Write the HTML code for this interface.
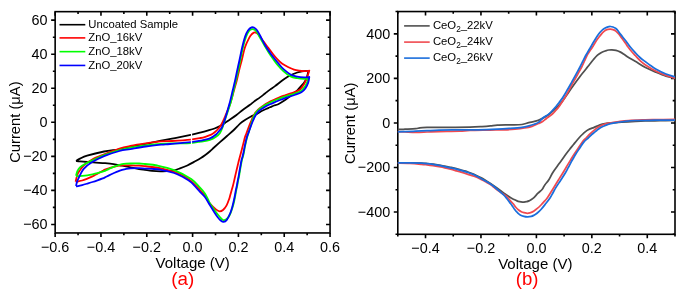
<!DOCTYPE html>
<html><head><meta charset="utf-8"><style>
html,body{margin:0;padding:0;background:#fff;width:685px;height:293px;overflow:hidden}
svg{display:block;will-change:transform}
text{font-family:"Liberation Sans", sans-serif}
</style></head><body>
<svg width="685" height="293" viewBox="0 0 685 293" font-family='"Liberation Sans", sans-serif'>
<rect width="685" height="293" fill="#fff"/>
<rect x="55.15" y="11.66" width="274.90" height="221.29" fill="none" stroke="#000" stroke-width="1.6"/>
<path d="M55.15 232.95v4 M55.15 11.66v4 M100.97 232.95v4 M100.97 11.66v4 M146.78 232.95v4 M146.78 11.66v4 M192.60 232.95v4 M192.60 11.66v4 M238.42 232.95v4 M238.42 11.66v4 M284.23 232.95v4 M284.23 11.66v4 M330.05 232.95v4 M330.05 11.66v4 M78.06 232.95v2.3 M78.06 11.66v2.3 M123.88 232.95v2.3 M123.88 11.66v2.3 M169.69 232.95v2.3 M169.69 11.66v2.3 M215.51 232.95v2.3 M215.51 11.66v2.3 M261.32 232.95v2.3 M261.32 11.66v2.3 M307.14 232.95v2.3 M307.14 11.66v2.3 M55.15 224.44h-4 M330.05 224.44h-4 M55.15 190.39h-4 M330.05 190.39h-4 M55.15 156.35h-4 M330.05 156.35h-4 M55.15 122.30h-4 M330.05 122.30h-4 M55.15 88.26h-4 M330.05 88.26h-4 M55.15 54.22h-4 M330.05 54.22h-4 M55.15 20.17h-4 M330.05 20.17h-4 M55.15 207.42h-2.3 M330.05 207.42h-2.3 M55.15 173.37h-2.3 M330.05 173.37h-2.3 M55.15 139.33h-2.3 M330.05 139.33h-2.3 M55.15 105.28h-2.3 M330.05 105.28h-2.3 M55.15 71.24h-2.3 M330.05 71.24h-2.3 M55.15 37.19h-2.3 M330.05 37.19h-2.3" stroke="#000" stroke-width="1.6" fill="none"/>
<text transform="translate(55.15 251.7) scale(0.96 1)" text-anchor="middle" font-size="15">−0.6</text>
<text transform="translate(100.97 251.7) scale(0.96 1)" text-anchor="middle" font-size="15">−0.4</text>
<text transform="translate(146.78 251.7) scale(0.96 1)" text-anchor="middle" font-size="15">−0.2</text>
<text transform="translate(192.60 251.7) scale(0.96 1)" text-anchor="middle" font-size="15">0.0</text>
<text transform="translate(238.42 251.7) scale(0.96 1)" text-anchor="middle" font-size="15">0.2</text>
<text transform="translate(284.23 251.7) scale(0.96 1)" text-anchor="middle" font-size="15">0.4</text>
<text transform="translate(330.05 251.7) scale(0.96 1)" text-anchor="middle" font-size="15">0.6</text>
<text transform="translate(47.55 229.19) scale(0.96 1)" text-anchor="end" font-size="15">−60</text>
<text transform="translate(47.55 195.14) scale(0.96 1)" text-anchor="end" font-size="15">−40</text>
<text transform="translate(47.55 161.10) scale(0.96 1)" text-anchor="end" font-size="15">−20</text>
<text transform="translate(47.55 127.05) scale(0.96 1)" text-anchor="end" font-size="15">0</text>
<text transform="translate(47.55 93.01) scale(0.96 1)" text-anchor="end" font-size="15">20</text>
<text transform="translate(47.55 58.97) scale(0.96 1)" text-anchor="end" font-size="15">40</text>
<text transform="translate(47.55 24.92) scale(0.96 1)" text-anchor="end" font-size="15">60</text>
<rect x="397.80" y="11.55" width="277.20" height="222.75" fill="none" stroke="#000" stroke-width="1.6"/>
<path d="M425.52 234.30v4 M425.52 11.55v4 M480.96 234.30v4 M480.96 11.55v4 M536.40 234.30v4 M536.40 11.55v4 M591.84 234.30v4 M591.84 11.55v4 M647.28 234.30v4 M647.28 11.55v4 M397.80 234.30v2.3 M397.80 11.55v2.3 M453.24 234.30v2.3 M453.24 11.55v2.3 M508.68 234.30v2.3 M508.68 11.55v2.3 M564.12 234.30v2.3 M564.12 11.55v2.3 M619.56 234.30v2.3 M619.56 11.55v2.3 M675.00 234.30v2.3 M675.00 11.55v2.3 M397.80 212.03h-4 M675.00 212.03h-4 M397.80 167.48h-4 M675.00 167.48h-4 M397.80 122.93h-4 M675.00 122.93h-4 M397.80 78.38h-4 M675.00 78.38h-4 M397.80 33.83h-4 M675.00 33.83h-4 M397.80 234.30h-2.3 M675.00 234.30h-2.3 M397.80 189.75h-2.3 M675.00 189.75h-2.3 M397.80 145.20h-2.3 M675.00 145.20h-2.3 M397.80 100.65h-2.3 M675.00 100.65h-2.3 M397.80 56.10h-2.3 M675.00 56.10h-2.3 M397.80 11.55h-2.3 M675.00 11.55h-2.3" stroke="#000" stroke-width="1.6" fill="none"/>
<text transform="translate(425.52 253.2) scale(0.96 1)" text-anchor="middle" font-size="15">−0.4</text>
<text transform="translate(480.96 253.2) scale(0.96 1)" text-anchor="middle" font-size="15">−0.2</text>
<text transform="translate(536.40 253.2) scale(0.96 1)" text-anchor="middle" font-size="15">0.0</text>
<text transform="translate(591.84 253.2) scale(0.96 1)" text-anchor="middle" font-size="15">0.2</text>
<text transform="translate(647.28 253.2) scale(0.96 1)" text-anchor="middle" font-size="15">0.4</text>
<text transform="translate(390.20 216.78) scale(0.96 1)" text-anchor="end" font-size="15">−400</text>
<text transform="translate(390.20 172.23) scale(0.96 1)" text-anchor="end" font-size="15">−200</text>
<text transform="translate(390.20 127.68) scale(0.96 1)" text-anchor="end" font-size="15">0</text>
<text transform="translate(390.20 83.13) scale(0.96 1)" text-anchor="end" font-size="15">200</text>
<text transform="translate(390.20 38.58) scale(0.96 1)" text-anchor="end" font-size="15">400</text>
<text transform="translate(192.7 268.3) scale(1 1)" text-anchor="middle" font-size="15">Voltage (V)</text>
<text transform="translate(535.3 269.4) scale(1 1)" text-anchor="middle" font-size="15">Voltage (V)</text>
<text x="182.7" y="285.4" text-anchor="middle" font-size="18.8" fill="#ff0000">(a)</text>
<text x="527.2" y="285.0" text-anchor="middle" font-size="18.6" fill="#ff0000">(b)</text>
<text transform="translate(20.2 122.1) rotate(-90)" text-anchor="middle" font-size="14.75">Current (μA)</text>
<text transform="translate(354.5 123.3) rotate(-90)" text-anchor="middle" font-size="14.75">Current (μA)</text>
<g fill="none" stroke-width="1.8" stroke-linejoin="round">
<path d="M76.00 160.90C76.67 160.52 78.15 159.48 80.00 158.60C81.85 157.72 83.08 156.78 87.10 155.60C91.12 154.42 98.70 152.55 104.10 151.50C109.50 150.45 115.13 150.08 119.50 149.30C123.87 148.52 125.93 147.72 130.30 146.80C134.67 145.88 140.58 144.83 145.70 143.80C150.82 142.77 156.12 141.55 161.00 140.60C165.88 139.65 170.05 139.07 175.00 138.10C179.95 137.13 186.53 135.72 190.70 134.80C194.87 133.88 197.07 133.33 200.00 132.60C202.93 131.87 205.88 131.08 208.30 130.40C210.72 129.72 212.47 129.25 214.50 128.50C216.53 127.75 218.75 126.83 220.50 125.90C222.25 124.97 223.58 123.85 225.00 122.90C226.42 121.95 227.08 121.52 229.00 120.20C230.92 118.88 234.22 116.70 236.50 115.00C238.78 113.30 240.45 111.70 242.70 110.00C244.95 108.30 248.12 106.20 250.00 104.80C251.88 103.40 252.33 102.83 254.00 101.60C255.67 100.37 258.17 98.75 260.00 97.40C261.83 96.05 263.33 94.80 265.00 93.50C266.67 92.20 268.33 90.83 270.00 89.60C271.67 88.37 272.73 87.78 275.00 86.10C277.27 84.42 281.02 81.32 283.60 79.50C286.18 77.68 288.22 76.37 290.50 75.20C292.78 74.03 295.38 73.15 297.30 72.50C299.22 71.85 300.13 71.58 302.00 71.30C303.87 71.02 307.42 70.88 308.50 70.80C308.22 71.92 307.52 75.55 306.80 77.50C306.08 79.45 305.12 81.12 304.20 82.50C303.28 83.88 302.37 84.58 301.30 85.80C300.23 87.02 299.02 88.60 297.80 89.80C296.58 91.00 295.22 91.97 294.00 93.00C292.78 94.03 291.92 94.87 290.50 96.00C289.08 97.13 287.55 98.42 285.50 99.80C283.45 101.18 280.12 103.35 278.20 104.30C276.28 105.25 275.37 105.00 274.00 105.50C272.63 106.00 271.33 106.72 270.00 107.30C268.67 107.88 267.30 108.42 266.00 109.00C264.70 109.58 263.38 110.18 262.20 110.80C261.02 111.42 259.93 112.10 258.90 112.70C257.87 113.30 257.40 113.73 256.00 114.40C254.60 115.07 252.83 115.43 250.50 116.70C248.17 117.97 244.20 120.38 242.00 122.00C239.80 123.62 238.67 125.07 237.30 126.40C235.93 127.73 235.52 128.40 233.80 130.00C232.08 131.60 229.30 133.97 227.00 136.00C224.70 138.03 222.17 140.28 220.00 142.20C217.83 144.12 215.67 146.00 214.00 147.50C212.33 149.00 211.45 149.95 210.00 151.20C208.55 152.45 206.82 153.87 205.30 155.00C203.78 156.13 202.78 156.85 200.90 158.00C199.02 159.15 196.27 160.65 194.00 161.90C191.73 163.15 189.63 164.42 187.30 165.50C184.97 166.58 182.20 167.60 180.00 168.40C177.80 169.20 176.27 169.83 174.10 170.30C171.93 170.77 169.27 171.03 167.00 171.20C164.73 171.37 163.00 171.37 160.50 171.30C158.00 171.23 154.58 171.03 152.00 170.80C149.42 170.57 147.15 170.18 145.00 169.90C142.85 169.62 141.50 169.52 139.10 169.10C136.70 168.68 133.43 167.97 130.60 167.40C127.77 166.83 124.95 166.25 122.10 165.70C119.25 165.15 116.35 164.52 113.50 164.10C110.65 163.68 107.92 163.45 105.00 163.20C102.08 162.95 98.98 162.80 96.00 162.60C93.02 162.40 89.77 162.20 87.10 162.00C84.43 161.80 81.85 161.58 80.00 161.40C78.15 161.22 76.67 160.98 76.00 160.90" stroke="#000"/>
<path d="M75.60 181.70C75.83 180.75 76.52 177.57 77.00 176.00C77.48 174.43 77.38 174.05 78.50 172.30C79.62 170.55 81.42 167.63 83.70 165.50C85.98 163.37 88.80 161.35 92.20 159.50C95.60 157.65 99.55 156.22 104.10 154.40C108.65 152.58 115.13 150.00 119.50 148.60C123.87 147.20 125.93 146.87 130.30 146.00C134.67 145.13 140.58 144.17 145.70 143.40C150.82 142.63 156.62 141.80 161.00 141.40C165.38 141.00 167.05 141.30 172.00 141.00C176.95 140.70 185.92 140.10 190.70 139.60C195.48 139.10 198.15 138.50 200.70 138.00C203.25 137.50 204.47 137.07 206.00 136.60C207.53 136.13 208.85 135.63 209.90 135.20C210.95 134.77 211.45 134.53 212.30 134.00C213.15 133.47 213.97 132.92 215.00 132.00C216.03 131.08 217.47 129.70 218.50 128.50C219.53 127.30 220.07 126.88 221.20 124.80C222.33 122.72 223.80 119.53 225.30 116.00C226.80 112.47 228.73 107.93 230.20 103.60C231.67 99.27 232.98 93.93 234.10 90.00C235.22 86.07 236.05 83.33 236.90 80.00C237.75 76.67 238.38 73.33 239.20 70.00C240.02 66.67 240.83 63.78 241.80 60.00C242.77 56.22 243.75 51.02 245.00 47.30C246.25 43.58 248.13 39.92 249.30 37.70C250.47 35.48 251.12 34.90 252.00 34.00C252.88 33.10 253.77 32.42 254.60 32.30C255.43 32.18 256.23 32.80 257.00 33.30C257.77 33.80 258.07 33.87 259.20 35.30C260.33 36.73 262.25 39.77 263.80 41.90C265.35 44.03 266.95 46.05 268.50 48.10C270.05 50.15 271.57 52.28 273.10 54.20C274.63 56.12 276.17 58.00 277.70 59.60C279.23 61.20 280.50 62.52 282.30 63.80C284.10 65.08 286.55 66.33 288.50 67.30C290.45 68.27 292.25 69.03 294.00 69.60C295.75 70.17 297.33 70.43 299.00 70.70C300.67 70.97 302.28 71.20 304.00 71.20C305.72 71.20 308.42 70.78 309.30 70.70C308.88 71.92 307.67 75.77 306.80 78.00C305.93 80.23 305.23 82.18 304.10 84.10C302.97 86.02 301.60 88.15 300.00 89.50C298.40 90.85 296.17 91.52 294.50 92.20C292.83 92.88 291.58 93.08 290.00 93.60C288.42 94.12 286.67 94.72 285.00 95.30C283.33 95.88 281.67 96.43 280.00 97.10C278.33 97.77 276.67 98.55 275.00 99.30C273.33 100.05 271.50 100.85 270.00 101.60C268.50 102.35 267.25 103.03 266.00 103.80C264.75 104.57 263.58 105.42 262.50 106.20C261.42 106.98 260.42 107.73 259.50 108.50C258.58 109.27 257.75 110.00 257.00 110.80C256.25 111.60 255.63 112.35 255.00 113.30C254.37 114.25 253.77 115.38 253.20 116.50C252.63 117.62 252.18 118.67 251.60 120.00C251.02 121.33 250.33 122.92 249.70 124.50C249.07 126.08 248.38 127.92 247.80 129.50C247.22 131.08 246.67 132.75 246.20 134.00C245.73 135.25 245.43 135.58 245.00 137.00C244.57 138.42 244.07 140.67 243.60 142.50C243.13 144.33 242.65 146.25 242.20 148.00C241.75 149.75 241.43 151.00 240.90 153.00C240.37 155.00 239.52 158.00 239.00 160.00C238.48 162.00 238.22 163.25 237.80 165.00C237.38 166.75 236.93 168.67 236.50 170.50C236.07 172.33 235.58 174.33 235.20 176.00C234.82 177.67 234.57 178.92 234.20 180.50C233.83 182.08 233.42 183.92 233.00 185.50C232.58 187.08 232.15 188.42 231.70 190.00C231.25 191.58 230.70 193.57 230.30 195.00C229.90 196.43 229.92 196.87 229.30 198.60C228.68 200.33 227.65 203.50 226.60 205.40C225.55 207.30 224.17 209.02 223.00 210.00C221.83 210.98 220.73 211.37 219.60 211.30C218.47 211.23 217.80 210.90 216.20 209.60C214.60 208.30 211.57 205.32 210.00 203.50C208.43 201.68 207.65 200.05 206.80 198.70C205.95 197.35 206.03 196.85 204.90 195.40C203.77 193.95 202.28 192.38 200.00 190.00C197.72 187.62 194.03 183.52 191.20 181.10C188.37 178.68 185.85 177.03 183.00 175.50C180.15 173.97 177.77 173.08 174.10 171.90C170.43 170.72 164.68 169.22 161.00 168.40C157.32 167.58 154.67 167.37 152.00 167.00C149.33 166.63 147.15 166.42 145.00 166.20C142.85 165.98 141.50 165.83 139.10 165.70C136.70 165.57 133.43 165.47 130.60 165.40C127.77 165.33 124.20 165.22 122.10 165.30C120.00 165.38 119.43 165.63 118.00 165.90C116.57 166.17 115.00 166.50 113.50 166.90C112.00 167.30 110.42 167.83 109.00 168.30C107.58 168.77 106.05 169.27 105.00 169.70C103.95 170.13 103.53 170.47 102.70 170.90C101.87 171.33 100.87 171.85 100.00 172.30C99.13 172.75 98.33 173.15 97.50 173.60C96.67 174.05 95.83 174.53 95.00 175.00C94.17 175.47 93.78 175.80 92.50 176.40C91.22 177.00 89.02 177.92 87.30 178.60C85.58 179.28 83.67 180.05 82.20 180.50C80.73 180.95 79.60 181.10 78.50 181.30C77.40 181.50 76.08 181.63 75.60 181.70" stroke="#ff0000"/>
<path d="M76.00 175.70C76.25 174.92 76.80 172.42 77.50 171.00C78.20 169.58 78.95 168.37 80.20 167.20C81.45 166.03 83.00 165.13 85.00 164.00C87.00 162.87 89.02 161.87 92.20 160.40C95.38 158.93 99.55 156.92 104.10 155.20C108.65 153.48 115.13 151.37 119.50 150.10C123.87 148.83 125.93 148.38 130.30 147.60C134.67 146.82 140.58 146.02 145.70 145.40C150.82 144.78 156.12 144.23 161.00 143.90C165.88 143.57 170.05 143.55 175.00 143.40C179.95 143.25 186.42 143.30 190.70 143.00C194.98 142.70 197.50 142.12 200.70 141.60C203.90 141.08 207.35 140.70 209.90 139.90C212.45 139.10 214.32 137.95 216.00 136.80C217.68 135.65 218.92 134.55 220.00 133.00C221.08 131.45 221.53 130.12 222.50 127.50C223.47 124.88 224.48 121.28 225.80 117.30C227.12 113.32 229.08 108.15 230.40 103.60C231.72 99.05 232.77 93.93 233.70 90.00C234.63 86.07 235.23 83.33 236.00 80.00C236.77 76.67 237.58 73.33 238.30 70.00C239.02 66.67 239.52 63.78 240.30 60.00C241.08 56.22 242.05 51.13 243.00 47.30C243.95 43.47 245.00 39.72 246.00 37.00C247.00 34.28 248.00 32.30 249.00 31.00C250.00 29.70 251.00 29.37 252.00 29.20C253.00 29.03 254.08 29.37 255.00 30.00C255.92 30.63 256.75 31.87 257.50 33.00C258.25 34.13 258.33 34.72 259.50 36.80C260.67 38.88 262.92 42.80 264.50 45.50C266.08 48.20 267.50 50.67 269.00 53.00C270.50 55.33 272.00 57.42 273.50 59.50C275.00 61.58 276.32 63.52 278.00 65.50C279.68 67.48 281.52 69.58 283.60 71.40C285.68 73.22 288.22 75.27 290.50 76.40C292.78 77.53 295.03 77.78 297.30 78.20C299.57 78.62 302.28 78.83 304.10 78.90C305.92 78.97 307.52 78.65 308.20 78.60C308.08 79.08 308.03 80.18 307.50 81.50C306.97 82.82 306.08 84.92 305.00 86.50C303.92 88.08 302.75 89.82 301.00 91.00C299.25 92.18 296.33 92.93 294.50 93.60C292.67 94.27 291.58 94.50 290.00 95.00C288.42 95.50 286.67 96.03 285.00 96.60C283.33 97.17 281.67 97.77 280.00 98.40C278.33 99.03 276.67 99.72 275.00 100.40C273.33 101.08 271.50 101.80 270.00 102.50C268.50 103.20 267.25 103.88 266.00 104.60C264.75 105.32 263.58 106.08 262.50 106.80C261.42 107.52 260.42 108.15 259.50 108.90C258.58 109.65 257.75 110.45 257.00 111.30C256.25 112.15 255.60 113.00 255.00 114.00C254.40 115.00 253.83 116.30 253.40 117.30C252.97 118.30 252.78 118.80 252.40 120.00C252.02 121.20 251.57 122.95 251.10 124.50C250.63 126.05 250.07 127.80 249.60 129.30C249.13 130.80 248.70 132.22 248.30 133.50C247.90 134.78 247.60 135.55 247.20 137.00C246.80 138.45 246.30 140.47 245.90 142.20C245.50 143.93 245.15 145.60 244.80 147.40C244.45 149.20 244.15 151.32 243.80 153.00C243.45 154.68 243.02 156.33 242.70 157.50C242.38 158.67 242.33 157.92 241.90 160.00C241.47 162.08 240.57 167.33 240.10 170.00C239.63 172.67 239.45 174.17 239.10 176.00C238.75 177.83 238.30 179.43 238.00 181.00C237.70 182.57 237.58 183.90 237.30 185.40C237.02 186.90 236.65 188.23 236.30 190.00C235.95 191.77 235.58 194.00 235.20 196.00C234.82 198.00 234.50 199.92 234.00 202.00C233.50 204.08 232.83 206.50 232.20 208.50C231.57 210.50 230.98 212.38 230.20 214.00C229.42 215.62 228.50 217.17 227.50 218.20C226.50 219.23 225.12 220.02 224.20 220.20C223.28 220.38 222.93 220.08 222.00 219.30C221.07 218.52 219.83 217.02 218.60 215.50C217.37 213.98 216.03 212.20 214.60 210.20C213.17 208.20 211.02 205.12 210.00 203.50C208.98 201.88 209.35 202.17 208.50 200.50C207.65 198.83 206.32 195.63 204.90 193.50C203.48 191.37 202.28 190.12 200.00 187.70C197.72 185.28 195.52 181.93 191.20 179.00C186.88 176.07 179.78 172.35 174.10 170.10C168.42 167.85 161.95 166.52 157.10 165.50C152.25 164.48 148.00 164.33 145.00 164.00C142.00 163.67 141.50 163.58 139.10 163.50C136.70 163.42 132.78 163.47 130.60 163.50C128.42 163.53 127.42 163.58 126.00 163.70C124.58 163.82 123.43 163.93 122.10 164.20C120.77 164.47 119.43 164.85 118.00 165.30C116.57 165.75 115.00 166.30 113.50 166.90C112.00 167.50 110.42 168.25 109.00 168.90C107.58 169.55 106.05 170.35 105.00 170.80C103.95 171.25 103.95 171.22 102.70 171.60C101.45 171.98 99.20 172.65 97.50 173.10C95.80 173.55 94.20 173.93 92.50 174.30C90.80 174.67 89.02 175.03 87.30 175.30C85.58 175.57 83.58 175.77 82.20 175.90C80.82 176.03 80.03 176.05 79.00 176.10C77.97 176.15 76.50 176.18 76.00 176.20" stroke="#00ff00"/>
<path d="M76.00 186.00C76.17 185.33 76.58 183.28 77.00 182.00C77.42 180.72 77.38 180.48 78.50 178.30C79.62 176.12 81.42 171.60 83.70 168.90C85.98 166.20 88.80 164.23 92.20 162.10C95.60 159.97 99.55 157.95 104.10 156.10C108.65 154.25 115.13 152.17 119.50 151.00C123.87 149.83 125.93 149.85 130.30 149.10C134.67 148.35 140.58 147.23 145.70 146.50C150.82 145.77 156.95 145.12 161.00 144.70C165.05 144.28 165.05 144.42 170.00 144.00C174.95 143.58 185.58 142.75 190.70 142.20C195.82 141.65 197.50 141.33 200.70 140.70C203.90 140.07 207.35 139.43 209.90 138.40C212.45 137.37 214.40 135.82 216.00 134.50C217.60 133.18 218.45 131.78 219.50 130.50C220.55 129.22 221.28 129.00 222.30 126.80C223.32 124.60 224.40 121.17 225.60 117.30C226.80 113.43 228.30 108.15 229.50 103.60C230.70 99.05 231.85 93.93 232.80 90.00C233.75 86.07 234.45 83.33 235.20 80.00C235.95 76.67 236.58 73.33 237.30 70.00C238.02 66.67 238.68 63.78 239.50 60.00C240.32 56.22 241.25 51.23 242.20 47.30C243.15 43.37 244.23 39.20 245.20 36.40C246.17 33.60 246.93 32.00 248.00 30.50C249.07 29.00 250.57 27.87 251.60 27.40C252.63 26.93 253.40 27.35 254.20 27.70C255.00 28.05 255.68 28.68 256.40 29.50C257.12 30.32 257.77 31.35 258.50 32.60C259.23 33.85 259.65 34.80 260.80 37.00C261.95 39.20 263.87 43.18 265.40 45.80C266.93 48.42 268.47 50.53 270.00 52.70C271.53 54.87 273.07 56.85 274.60 58.80C276.13 60.75 277.67 62.63 279.20 64.40C280.73 66.17 281.92 67.72 283.80 69.40C285.68 71.08 288.25 73.30 290.50 74.50C292.75 75.70 295.03 76.13 297.30 76.60C299.57 77.07 302.10 77.23 304.10 77.30C306.10 77.37 308.43 77.05 309.30 77.00C309.12 77.95 308.83 80.83 308.20 82.70C307.57 84.57 306.63 86.60 305.50 88.20C304.37 89.80 303.23 91.17 301.40 92.30C299.57 93.43 296.40 94.30 294.50 95.00C292.60 95.70 291.58 95.97 290.00 96.50C288.42 97.03 286.67 97.62 285.00 98.20C283.33 98.78 281.67 99.35 280.00 100.00C278.33 100.65 276.67 101.38 275.00 102.10C273.33 102.82 271.50 103.60 270.00 104.30C268.50 105.00 267.25 105.62 266.00 106.30C264.75 106.98 263.58 107.70 262.50 108.40C261.42 109.10 260.37 109.77 259.50 110.50C258.63 111.23 257.97 111.97 257.30 112.80C256.63 113.63 256.05 114.55 255.50 115.50C254.95 116.45 254.40 117.67 254.00 118.50C253.60 119.33 253.52 119.50 253.10 120.50C252.68 121.50 252.05 123.03 251.50 124.50C250.95 125.97 250.35 127.80 249.80 129.30C249.25 130.80 248.68 132.22 248.20 133.50C247.72 134.78 247.33 135.55 246.90 137.00C246.47 138.45 246.00 140.47 245.60 142.20C245.20 143.93 244.87 145.60 244.50 147.40C244.13 149.20 243.77 151.32 243.40 153.00C243.03 154.68 242.62 156.33 242.30 157.50C241.98 158.67 241.78 158.75 241.50 160.00C241.22 161.25 240.90 163.33 240.60 165.00C240.30 166.67 240.02 168.17 239.70 170.00C239.38 171.83 239.03 174.17 238.70 176.00C238.37 177.83 238.00 179.43 237.70 181.00C237.40 182.57 237.20 183.90 236.90 185.40C236.60 186.90 236.25 188.23 235.90 190.00C235.55 191.77 235.20 194.00 234.80 196.00C234.40 198.00 233.97 200.00 233.50 202.00C233.03 204.00 232.53 206.17 232.00 208.00C231.47 209.83 231.13 211.07 230.30 213.00C229.47 214.93 228.12 218.12 227.00 219.60C225.88 221.08 224.70 221.80 223.60 221.90C222.50 222.00 221.42 221.02 220.40 220.20C219.38 219.38 218.47 218.23 217.50 217.00C216.53 215.77 215.85 214.75 214.60 212.80C213.35 210.85 211.62 207.93 210.00 205.30C208.38 202.67 206.57 199.23 204.90 197.00C203.23 194.77 202.28 194.33 200.00 191.90C197.72 189.47 194.03 184.88 191.20 182.40C188.37 179.92 185.85 178.57 183.00 177.00C180.15 175.43 177.77 174.20 174.10 173.00C170.43 171.80 164.68 170.48 161.00 169.80C157.32 169.12 154.67 169.10 152.00 168.90C149.33 168.70 147.15 168.72 145.00 168.60C142.85 168.48 141.50 168.25 139.10 168.20C136.70 168.15 132.73 168.20 130.60 168.30C128.47 168.40 127.72 168.53 126.30 168.80C124.88 169.07 123.48 169.48 122.10 169.90C120.72 170.32 119.43 170.73 118.00 171.30C116.57 171.87 115.00 172.62 113.50 173.30C112.00 173.98 110.42 174.72 109.00 175.40C107.58 176.08 106.05 176.90 105.00 177.40C103.95 177.90 103.95 177.92 102.70 178.40C101.45 178.88 99.20 179.70 97.50 180.30C95.80 180.90 94.20 181.45 92.50 182.00C90.80 182.55 89.02 183.08 87.30 183.60C85.58 184.12 83.58 184.73 82.20 185.10C80.82 185.47 80.03 185.58 79.00 185.80C77.97 186.02 76.50 186.30 76.00 186.40" stroke="#0000ff"/>
</g>
<rect x="190.9" y="131.5" width="1.2" height="14" fill="#fff"/>
<clipPath id="cb"><rect x="397.8" y="11.55" width="277.2" height="222.75"/></clipPath>
<g fill="none" stroke-width="1.75" stroke-linejoin="round" clip-path="url(#cb)">
<path d="M397.00 129.50C398.33 129.45 401.88 129.33 405.00 129.20C408.12 129.07 413.23 128.93 415.70 128.70C418.17 128.47 417.92 128.02 419.80 127.80C421.68 127.58 424.48 127.48 427.00 127.40C429.52 127.32 431.07 127.32 434.90 127.30C438.73 127.28 444.15 127.32 450.00 127.30C455.85 127.28 464.67 127.32 470.00 127.20C475.33 127.08 478.58 126.82 482.00 126.60C485.42 126.38 487.95 126.15 490.50 125.90C493.05 125.65 494.05 125.28 497.30 125.10C500.55 124.92 505.90 124.90 510.00 124.80C514.10 124.70 518.78 124.87 521.90 124.50C525.02 124.13 526.77 123.08 528.70 122.60C530.63 122.12 531.90 122.00 533.50 121.60C535.10 121.20 536.37 120.97 538.30 120.20C540.23 119.43 543.15 118.12 545.10 117.00C547.05 115.88 548.27 114.88 550.00 113.50C551.73 112.12 553.60 110.52 555.50 108.70C557.40 106.88 559.40 105.05 561.40 102.60C563.40 100.15 565.65 96.63 567.50 94.00C569.35 91.37 570.78 89.22 572.50 86.80C574.22 84.38 576.30 81.55 577.80 79.50C579.30 77.45 580.13 76.25 581.50 74.50C582.87 72.75 584.67 70.67 586.00 69.00C587.33 67.33 588.25 66.08 589.50 64.50C590.75 62.92 592.17 61.05 593.50 59.50C594.83 57.95 596.17 56.38 597.50 55.20C598.83 54.02 600.13 53.13 601.50 52.40C602.87 51.67 604.48 51.20 605.70 50.80C606.92 50.40 607.77 50.17 608.80 50.00C609.83 49.83 610.70 49.73 611.90 49.80C613.10 49.87 614.65 50.05 616.00 50.40C617.35 50.75 618.67 51.25 620.00 51.90C621.33 52.55 622.63 53.42 624.00 54.30C625.37 55.18 626.33 56.05 628.20 57.20C630.07 58.35 632.32 59.48 635.20 61.20C638.08 62.92 642.08 65.68 645.50 67.50C648.92 69.32 652.28 70.67 655.70 72.10C659.12 73.53 662.78 75.07 666.00 76.10C669.22 77.13 673.50 77.93 675.00 78.30" stroke="#505050"/>
<path d="M675.00 120.40C672.50 120.45 665.00 120.60 660.00 120.70C655.00 120.80 649.08 120.88 645.00 121.00C640.92 121.12 639.40 121.20 635.50 121.40C631.60 121.60 625.77 121.95 621.60 122.20C617.43 122.45 613.27 122.67 610.50 122.90C607.73 123.13 606.75 123.28 605.00 123.60C603.25 123.92 601.33 124.38 600.00 124.80C598.67 125.22 598.05 125.63 597.00 126.10C595.95 126.57 594.87 127.13 593.70 127.60C592.53 128.07 591.15 128.40 590.00 128.90C588.85 129.40 587.88 129.87 586.80 130.60C585.72 131.33 584.52 132.40 583.50 133.30C582.48 134.20 581.78 134.85 580.70 136.00C579.62 137.15 578.23 138.73 577.00 140.20C575.77 141.67 574.55 143.25 573.30 144.80C572.05 146.35 570.83 147.80 569.50 149.50C568.17 151.20 567.02 152.65 565.30 155.00C563.58 157.35 561.25 160.73 559.20 163.60C557.15 166.47 554.75 169.47 553.00 172.20C551.25 174.93 550.07 177.88 548.70 180.00C547.33 182.12 545.87 183.37 544.80 184.90C543.73 186.43 543.43 187.82 542.30 189.20C541.17 190.58 539.55 191.67 538.00 193.20C536.45 194.73 534.52 197.12 533.00 198.40C531.48 199.68 529.98 200.35 528.90 200.90C527.82 201.45 527.32 201.50 526.50 201.70C525.68 201.90 524.92 202.07 524.00 202.10C523.08 202.13 521.97 202.03 521.00 201.90C520.03 201.77 519.05 201.57 518.20 201.30C517.35 201.03 516.93 200.78 515.90 200.30C514.87 199.82 513.30 199.12 512.00 198.40C510.70 197.68 509.18 196.68 508.10 196.00C507.02 195.32 506.73 195.17 505.50 194.30C504.27 193.43 502.37 192.02 500.70 190.80C499.03 189.58 497.20 188.22 495.50 187.00C493.80 185.78 492.25 184.67 490.50 183.50C488.75 182.33 486.72 181.03 485.00 180.00C483.28 178.97 482.03 178.27 480.20 177.30C478.37 176.33 476.03 175.08 474.00 174.20C471.97 173.32 470.00 172.65 468.00 172.00C466.00 171.35 463.93 170.87 462.00 170.30C460.07 169.73 458.32 169.10 456.40 168.60C454.48 168.10 452.45 167.70 450.50 167.30C448.55 166.90 446.62 166.57 444.70 166.20C442.78 165.83 440.95 165.43 439.00 165.10C437.05 164.77 435.00 164.47 433.00 164.20C431.00 163.93 428.93 163.68 427.00 163.50C425.07 163.32 424.28 163.22 421.40 163.10C418.52 162.98 413.77 162.85 409.70 162.80C405.63 162.75 399.12 162.80 397.00 162.80" stroke="#505050"/>
<path d="M397.00 131.60C398.33 131.65 401.88 131.78 405.00 131.90C408.12 132.02 412.03 132.28 415.70 132.30C419.37 132.32 423.12 132.12 427.00 132.00C430.88 131.88 433.60 131.73 439.00 131.60C444.40 131.47 454.23 131.38 459.40 131.20C464.57 131.02 464.90 130.68 470.00 130.50C475.10 130.32 484.32 130.22 490.00 130.10C495.68 129.98 499.93 129.95 504.10 129.80C508.27 129.65 511.58 129.50 515.00 129.20C518.42 128.90 521.77 128.48 524.60 128.00C527.43 127.52 529.53 127.12 532.00 126.30C534.47 125.48 537.57 123.95 539.40 123.10C541.23 122.25 541.87 121.93 543.00 121.20C544.13 120.47 544.63 119.90 546.20 118.70C547.77 117.50 550.77 115.42 552.40 114.00C554.03 112.58 554.92 111.42 556.00 110.20C557.08 108.98 558.00 107.90 558.90 106.70C559.80 105.50 560.58 104.22 561.40 103.00C562.22 101.78 562.93 100.80 563.80 99.40C564.67 98.00 565.67 96.27 566.60 94.60C567.53 92.93 568.48 91.12 569.40 89.40C570.32 87.68 571.25 85.87 572.10 84.30C572.95 82.73 573.50 81.80 574.50 80.00C575.50 78.20 576.90 75.67 578.10 73.50C579.30 71.33 580.63 69.08 581.70 67.00C582.77 64.92 583.58 63.00 584.50 61.00C585.42 59.00 586.32 56.67 587.20 55.00C588.08 53.33 588.92 52.33 589.80 51.00C590.68 49.67 591.47 48.63 592.50 47.00C593.53 45.37 594.77 43.03 596.00 41.20C597.23 39.37 598.80 37.42 599.90 36.00C601.00 34.58 601.72 33.63 602.60 32.70C603.48 31.77 604.30 30.95 605.20 30.40C606.10 29.85 607.13 29.62 608.00 29.40C608.87 29.18 609.57 29.07 610.40 29.10C611.23 29.13 612.15 29.30 613.00 29.60C613.85 29.90 614.67 30.30 615.50 30.90C616.33 31.50 617.15 32.28 618.00 33.20C618.85 34.12 619.77 35.30 620.60 36.40C621.43 37.50 622.15 38.60 623.00 39.80C623.85 41.00 624.82 42.35 625.70 43.60C626.58 44.85 627.42 46.10 628.30 47.30C629.18 48.50 629.85 49.45 631.00 50.80C632.15 52.15 633.70 53.78 635.20 55.40C636.70 57.02 638.28 58.92 640.00 60.50C641.72 62.08 642.88 63.15 645.50 64.90C648.12 66.65 652.28 69.25 655.70 71.00C659.12 72.75 662.78 74.20 666.00 75.40C669.22 76.60 673.50 77.73 675.00 78.20" stroke="#f04a50"/>
<path d="M675.00 119.30C673.03 119.33 668.20 119.40 663.20 119.50C658.20 119.60 650.78 119.73 645.00 119.90C639.22 120.07 632.83 120.23 628.50 120.50C624.17 120.77 622.00 121.10 619.00 121.50C616.00 121.90 612.83 122.48 610.50 122.90C608.17 123.32 606.75 123.45 605.00 124.00C603.25 124.55 601.33 125.53 600.00 126.20C598.67 126.87 598.05 127.27 597.00 128.00C595.95 128.73 594.87 129.60 593.70 130.60C592.53 131.60 591.27 132.77 590.00 134.00C588.73 135.23 587.23 136.85 586.10 138.00C584.97 139.15 584.43 139.32 583.20 140.90C581.97 142.48 580.18 145.32 578.70 147.50C577.22 149.68 575.62 151.98 574.30 154.00C572.98 156.02 572.10 157.47 570.80 159.60C569.50 161.73 567.83 164.57 566.50 166.80C565.17 169.03 564.00 171.03 562.80 173.00C561.60 174.97 560.47 176.72 559.30 178.60C558.13 180.48 557.10 182.20 555.80 184.30C554.50 186.40 552.93 188.92 551.50 191.20C550.07 193.48 548.28 196.43 547.20 198.00C546.12 199.57 546.03 199.43 545.00 200.60C543.97 201.77 542.33 203.65 541.00 205.00C539.67 206.35 538.17 207.72 537.00 208.70C535.83 209.68 534.95 210.28 534.00 210.90C533.05 211.52 532.22 212.02 531.30 212.40C530.38 212.78 529.32 213.07 528.50 213.20C527.68 213.33 527.15 213.28 526.40 213.20C525.65 213.12 524.85 212.95 524.00 212.70C523.15 212.45 522.20 212.15 521.30 211.70C520.40 211.25 519.52 210.73 518.60 210.00C517.68 209.27 516.67 208.30 515.80 207.30C514.93 206.30 514.37 205.15 513.40 204.00C512.43 202.85 511.15 201.68 510.00 200.40C508.85 199.12 507.83 197.48 506.50 196.30C505.17 195.12 503.42 194.25 502.00 193.30C500.58 192.35 499.33 191.58 498.00 190.60C496.67 189.62 495.25 188.42 494.00 187.40C492.75 186.38 492.00 185.48 490.50 184.50C489.00 183.52 486.72 182.43 485.00 181.50C483.28 180.57 482.03 179.77 480.20 178.90C478.37 178.03 476.03 177.07 474.00 176.30C471.97 175.53 470.00 174.95 468.00 174.30C466.00 173.65 463.93 172.98 462.00 172.40C460.07 171.82 458.32 171.33 456.40 170.80C454.48 170.27 452.45 169.70 450.50 169.20C448.55 168.70 446.62 168.22 444.70 167.80C442.78 167.38 440.95 167.05 439.00 166.70C437.05 166.35 435.00 166.00 433.00 165.70C431.00 165.40 428.93 165.13 427.00 164.90C425.07 164.67 424.28 164.53 421.40 164.30C418.52 164.07 413.77 163.68 409.70 163.50C405.63 163.32 399.12 163.25 397.00 163.20" stroke="#f04a50"/>
<path d="M397.00 131.80C398.33 131.77 401.88 131.70 405.00 131.60C408.12 131.50 412.03 131.35 415.70 131.20C419.37 131.05 423.12 130.87 427.00 130.70C430.88 130.53 433.83 130.33 439.00 130.20C444.17 130.07 451.50 129.97 458.00 129.90C464.50 129.83 471.45 129.93 478.00 129.80C484.55 129.67 491.97 129.35 497.30 129.10C502.63 128.85 505.90 128.60 510.00 128.30C514.10 128.00 518.90 127.65 521.90 127.30C524.90 126.95 525.95 126.70 528.00 126.20C530.05 125.70 532.45 124.93 534.20 124.30C535.95 123.67 537.07 123.45 538.50 122.40C539.93 121.35 541.52 119.10 542.80 118.00C544.08 116.90 545.07 116.58 546.20 115.80C547.33 115.02 548.47 114.30 549.60 113.30C550.73 112.30 551.90 110.98 553.00 109.80C554.10 108.62 555.20 107.38 556.20 106.20C557.20 105.02 558.08 103.88 559.00 102.70C559.92 101.52 560.73 100.52 561.70 99.10C562.67 97.68 563.80 95.85 564.80 94.20C565.80 92.55 566.72 90.90 567.70 89.20C568.68 87.50 569.85 85.50 570.70 84.00C571.55 82.50 571.85 81.93 572.80 80.20C573.75 78.47 575.20 75.80 576.40 73.60C577.60 71.40 578.90 69.10 580.00 67.00C581.10 64.90 582.00 63.00 583.00 61.00C584.00 59.00 585.10 56.67 586.00 55.00C586.90 53.33 587.62 52.33 588.40 51.00C589.18 49.67 589.73 48.67 590.70 47.00C591.67 45.33 593.02 42.95 594.20 41.00C595.38 39.05 596.78 36.80 597.80 35.30C598.82 33.80 599.48 32.95 600.30 32.00C601.12 31.05 601.88 30.28 602.70 29.60C603.52 28.92 604.32 28.37 605.20 27.90C606.08 27.43 607.13 27.03 608.00 26.80C608.87 26.57 609.57 26.47 610.40 26.50C611.23 26.53 612.15 26.70 613.00 27.00C613.85 27.30 614.67 27.67 615.50 28.30C616.33 28.93 617.15 29.78 618.00 30.80C618.85 31.82 619.32 32.73 620.60 34.40C621.88 36.07 624.05 38.65 625.70 40.80C627.35 42.95 628.92 45.33 630.50 47.30C632.08 49.27 633.62 50.90 635.20 52.60C636.78 54.30 638.28 55.97 640.00 57.50C641.72 59.03 643.75 60.47 645.50 61.80C647.25 63.13 648.80 64.32 650.50 65.50C652.20 66.68 653.12 67.48 655.70 68.90C658.28 70.32 662.78 72.67 666.00 74.00C669.22 75.33 673.50 76.42 675.00 76.90" stroke="#1a6edc"/>
<path d="M675.00 120.00C671.67 120.03 661.58 120.12 655.00 120.20C648.42 120.28 640.67 120.28 635.50 120.50C630.33 120.72 627.70 121.07 624.00 121.50C620.30 121.93 616.05 122.58 613.30 123.10C610.55 123.62 609.05 124.12 607.50 124.60C605.95 125.08 605.25 125.45 604.00 126.00C602.75 126.55 601.17 127.20 600.00 127.90C598.83 128.60 598.05 129.35 597.00 130.20C595.95 131.05 594.70 132.15 593.70 133.00C592.70 133.85 591.92 134.47 591.00 135.30C590.08 136.13 589.40 136.87 588.20 138.00C587.00 139.13 585.20 140.43 583.80 142.10C582.40 143.77 581.13 146.02 579.80 148.00C578.47 149.98 576.87 152.30 575.80 154.00C574.73 155.70 574.20 156.80 573.40 158.20C572.60 159.60 571.87 160.82 571.00 162.40C570.13 163.98 569.15 165.93 568.20 167.70C567.25 169.47 566.55 170.92 565.30 173.00C564.05 175.08 562.25 177.80 560.70 180.20C559.15 182.60 557.28 185.32 556.00 187.40C554.72 189.48 554.00 190.93 553.00 192.70C552.00 194.47 551.33 196.02 550.00 198.00C548.67 199.98 546.50 202.68 545.00 204.60C543.50 206.52 542.33 208.07 541.00 209.50C539.67 210.93 538.17 212.25 537.00 213.20C535.83 214.15 534.95 214.67 534.00 215.20C533.05 215.73 532.42 216.13 531.30 216.40C530.18 216.67 528.52 216.82 527.30 216.80C526.08 216.78 525.18 216.62 524.00 216.30C522.82 215.98 521.28 215.50 520.20 214.90C519.12 214.30 518.42 213.60 517.50 212.70C516.58 211.80 515.62 210.72 514.70 209.50C513.78 208.28 512.78 206.50 512.00 205.40C511.22 204.30 510.83 204.00 510.00 202.90C509.17 201.80 507.97 200.03 507.00 198.80C506.03 197.57 505.53 196.83 504.20 195.50C502.87 194.17 500.70 192.30 499.00 190.80C497.30 189.30 495.42 187.62 494.00 186.50C492.58 185.38 492.00 185.05 490.50 184.10C489.00 183.15 486.72 181.80 485.00 180.80C483.28 179.80 482.03 179.10 480.20 178.10C478.37 177.10 476.03 175.73 474.00 174.80C471.97 173.87 470.00 173.18 468.00 172.50C466.00 171.82 463.93 171.25 462.00 170.70C460.07 170.15 458.32 169.67 456.40 169.20C454.48 168.73 452.45 168.32 450.50 167.90C448.55 167.48 446.62 167.12 444.70 166.70C442.78 166.28 440.95 165.80 439.00 165.40C437.05 165.00 435.00 164.60 433.00 164.30C431.00 164.00 428.93 163.78 427.00 163.60C425.07 163.42 424.28 163.32 421.40 163.20C418.52 163.08 413.77 162.95 409.70 162.90C405.63 162.85 399.12 162.90 397.00 162.90" stroke="#1a6edc"/>
</g>
<path d="M59.5 24.70H85.3" stroke="#000" stroke-width="1.6"/>
<text transform="translate(88.3 27.90) scale(0.975 1)" font-size="11.6">Uncoated Sample</text>
<path d="M59.5 37.90H85.3" stroke="#ff0000" stroke-width="1.6"/>
<text transform="translate(88.3 41.10) scale(0.975 1)" font-size="11.6">ZnO_16kV</text>
<path d="M59.5 51.65H85.3" stroke="#00ff00" stroke-width="1.6"/>
<text transform="translate(88.3 54.85) scale(0.975 1)" font-size="11.6">ZnO_18kV</text>
<path d="M59.5 65.45H85.3" stroke="#0000ff" stroke-width="1.6"/>
<text transform="translate(88.3 68.65) scale(0.975 1)" font-size="11.6">ZnO_20kV</text>
<path d="M404.1 25.90H429.7" stroke="#505050" stroke-width="1.6"/>
<text transform="translate(432.9 29.05) scale(0.975 1)" font-size="11.6">CeO<tspan font-size="8.4" dy="3">2</tspan><tspan dy="-3">_22kV</tspan></text>
<path d="M404.1 42.10H429.7" stroke="#f04a50" stroke-width="1.6"/>
<text transform="translate(432.9 45.25) scale(0.975 1)" font-size="11.6">CeO<tspan font-size="8.4" dy="3">2</tspan><tspan dy="-3">_24kV</tspan></text>
<path d="M404.1 58.10H429.7" stroke="#1a6edc" stroke-width="1.6"/>
<text transform="translate(432.9 61.25) scale(0.975 1)" font-size="11.6">CeO<tspan font-size="8.4" dy="3">2</tspan><tspan dy="-3">_26kV</tspan></text>
</svg></body></html>
